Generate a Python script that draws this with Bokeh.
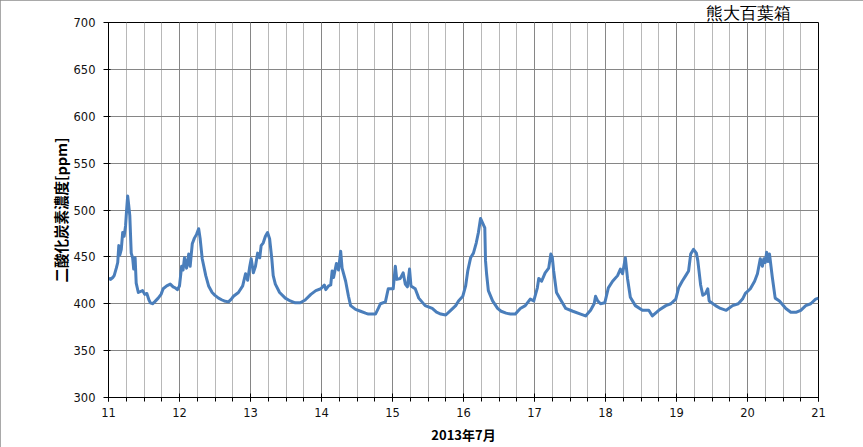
from bokeh.plotting import figure
from bokeh.models import Range1d, SingleIntervalTicker
from bokeh.embed import file_html
from bokeh.resources import INLINE

# ---- data ----
t_day = [
    11.00, 11.03, 11.06, 11.08, 11.11, 11.13, 11.145, 11.16, 11.18, 11.20,
    11.22, 11.24, 11.255, 11.27, 11.285, 11.30, 11.32, 11.34, 11.355, 11.375,
    11.39, 11.42, 11.48, 11.51, 11.54, 11.57, 11.59, 11.62, 11.65, 11.70,
    11.74, 11.77, 11.82, 11.87, 11.91, 11.94, 11.97, 12.00, 12.03, 12.05,
    12.07, 12.10, 12.13, 12.15, 12.18, 12.21, 12.24, 12.27, 12.29, 12.32,
    12.37, 12.41, 12.46, 12.50, 12.55, 12.60, 12.63, 12.69, 12.73, 12.76,
    12.83, 12.89, 12.93, 12.96, 12.99, 13.01, 13.04, 13.07, 13.10, 13.13,
    13.15, 13.18, 13.21, 13.24, 13.27, 13.30, 13.32, 13.35, 13.41, 13.49,
    13.56, 13.63, 13.70, 13.77, 13.85, 13.92, 13.99, 14.04, 14.06, 14.10,
    14.13, 14.15, 14.17, 14.21, 14.24, 14.27, 14.29, 14.34, 14.38, 14.41,
    14.48, 14.55, 14.62, 14.66, 14.76, 14.80, 14.83, 14.90, 14.94, 15.01,
    15.04, 15.06, 15.11, 15.15, 15.18, 15.21, 15.24, 15.26, 15.32, 15.37,
    15.46, 15.56, 15.62, 15.68, 15.75, 15.82, 15.89, 15.93, 15.99, 16.03,
    16.06, 16.10, 16.14, 16.18, 16.21, 16.24, 16.27, 16.30, 16.31, 16.325,
    16.35, 16.41, 16.48, 16.53, 16.60, 16.66, 16.73, 16.80, 16.87, 16.94,
    16.99, 17.04, 17.06, 17.10, 17.15, 17.20, 17.23, 17.25, 17.27, 17.31,
    17.37, 17.44, 17.54, 17.65, 17.72, 17.79, 17.84, 17.86, 17.89, 17.93,
    17.99, 18.04, 18.10, 18.17, 18.21, 18.24, 18.28, 18.31, 18.35, 18.42,
    18.52, 18.61, 18.66, 18.75, 18.85, 18.92, 18.99, 19.03, 19.08, 19.13,
    19.17, 19.20, 19.24, 19.28, 19.30, 19.34, 19.37, 19.41, 19.44, 19.46,
    19.55, 19.62, 19.70, 19.79, 19.87, 19.93, 19.97, 20.04, 20.10, 20.14,
    20.18, 20.21, 20.23, 20.25, 20.27, 20.29, 20.31, 20.35, 20.39, 20.45,
    20.54, 20.61, 20.69, 20.75, 20.82, 20.89, 20.96, 21.00,
]
co2_ppm = [
    427, 426, 428, 430, 438, 444, 462, 452, 458, 476,
    472, 483, 500, 515, 505, 494, 454, 449, 437, 449,
    422, 412, 414, 410, 411, 404, 401, 400, 402, 406,
    410, 416, 419, 421, 418, 417, 415, 419, 440, 436,
    449, 438, 453, 440, 464, 470, 474, 480, 470, 448,
    430, 419, 412, 409, 406, 404, 403, 402, 405, 408,
    412, 419, 432, 425, 440, 448, 433, 440, 454, 449,
    462, 465, 472, 476, 469, 448, 430, 421, 412, 406,
    403, 401, 401, 404, 410, 414, 416, 420, 415, 419,
    420, 435, 428, 443, 436, 456, 438, 424, 408, 398,
    394, 392, 390, 389, 389, 395, 400, 402, 416, 416,
    440, 426, 427, 433, 421, 418, 437, 419, 416, 406,
    398, 395, 391, 389, 388, 393, 398, 403, 408, 419,
    435, 449, 454, 465, 476, 491, 486, 481, 446, 432,
    414, 403, 395, 392, 390, 389, 389, 395, 398, 405,
    403, 417, 427, 424, 433, 438, 453, 450, 435, 412,
    404, 395, 392, 389, 387, 393, 400, 408, 403, 400,
    401, 417, 424, 430, 437, 432, 449, 427, 407, 398,
    393, 393, 387, 393, 398, 400, 405, 417, 424, 430,
    435, 453, 458, 454, 446, 420, 409, 411, 416, 403,
    398, 395, 393, 398, 400, 405, 411, 416, 424, 432,
    448, 440, 448, 444, 455, 445, 453, 428, 406, 403,
    395, 391, 391, 393, 398, 400, 405, 406,
]

x_start, x_end = 11, 21
y_start, y_end = 300, 700
title_text = "熊大百葉箱"
y_label = "二酸化炭素濃度[ppm]"
x_label = "2013年7月"

p = figure(width=863, height=447,
           x_range=Range1d(x_start, x_end), y_range=Range1d(y_start, y_end),
           output_backend="svg", toolbar_location=None,
           min_border_left=108, min_border_right=45,
           min_border_top=21, min_border_bottom=50,
           background_fill_color="white", border_fill_color="white",
           title=title_text)

p.styles = {"outline": "1px solid #8c8c8c", "outline-offset": "-1px"}

p.title.align = "right"
p.title.offset = 28
p.title.standoff = 0
p.title.text_font = "DejaVu Sans"
p.title.text_font_size = "17px"
p.title.text_font_style = "normal"
p.title.text_color = "black"

p.outline_line_color = "black"
p.outline_line_width = 1

p.line(t_day, co2_ppm, line_width=3, color="#4a7ebb", line_join="round")

# axes
p.xaxis.ticker = SingleIntervalTicker(interval=1, num_minor_ticks=4)
p.yaxis.ticker = SingleIntervalTicker(interval=50, num_minor_ticks=0)

for ax in (p.xaxis[0], p.yaxis[0]):
    ax.axis_line_color = "black"
    ax.major_tick_line_color = "black"
    ax.minor_tick_line_color = "black"
    ax.major_label_text_font = "DejaVu Sans"
    ax.major_label_text_font_size = "11.5px"
    ax.major_label_text_color = "#111111"
    ax.axis_label_text_font = "Noto Sans CJK JP"
    ax.axis_label_text_font_style = "bold"
    ax.axis_label_text_color = "black"

p.xaxis.major_tick_in = 4
p.xaxis.major_tick_out = 4
p.xaxis.minor_tick_in = 0
p.xaxis.minor_tick_out = 4
p.xaxis.major_label_standoff = 6
p.xaxis.axis_label = x_label
p.xaxis.axis_label_text_font_size = "13px"
p.xaxis.axis_label_standoff = 5

p.yaxis.major_tick_in = 2
p.yaxis.major_tick_out = 5
p.yaxis.minor_tick_line_color = None
p.yaxis.major_label_standoff = 8
p.yaxis.axis_label = y_label
p.yaxis.axis_label_text_font_size = "14.5px"
p.yaxis.axis_label_standoff = 0

# grids
p.xgrid.grid_line_color = "#868686"
p.xgrid.grid_line_width = 1
p.xgrid.minor_grid_line_color = "#b8b8b8"
p.xgrid.minor_grid_line_width = 1
p.ygrid.grid_line_color = "#868686"
p.ygrid.grid_line_width = 1

open("out.html", "w").write(file_html(p, INLINE))
